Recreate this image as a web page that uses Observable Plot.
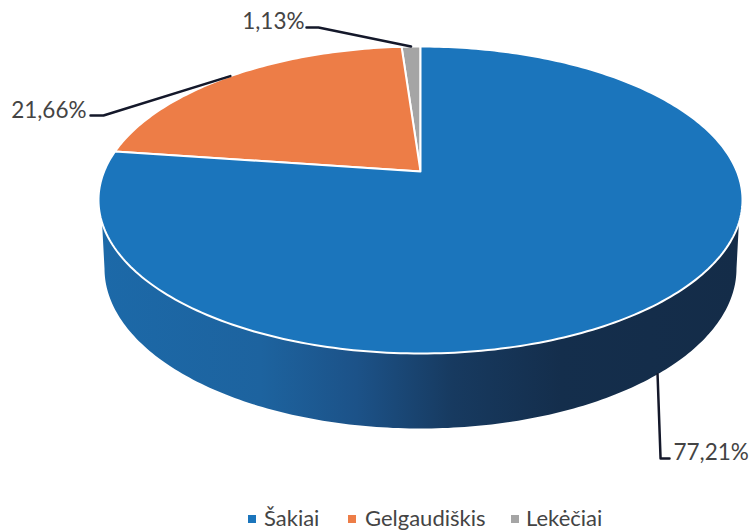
<!DOCTYPE html>
<html>
<head>
<meta charset="utf-8">
<script src="https://cdn.jsdelivr.net/npm/d3@7"></script>
<script src="https://cdn.jsdelivr.net/npm/@observablehq/plot@0.6"></script>
<style>
  html, body { margin: 0; padding: 0; background: #fff; width: 750px; height: 530px; overflow: hidden; }
  svg { display: block; }
  #legend { position: absolute; left: 0; top: 505px; width: 750px; height: 25px; font: 22px Lato, sans-serif; color: #444; }
  #legend span { position: absolute; top: 0; line-height: 25px; white-space: nowrap; }
  #legend i { position: absolute; top: 10px; width: 8px; height: 8px; }
</style>
</head>
<body>
<div id="chart"></div>
<div id="legend"></div>
<script>
// Data
const categories = ["Šakiai", "Gelgaudiškis", "Lekėčiai"];
const shares = [77.21, 21.66, 1.13];
const shareLabels = ["77,21%", "21,66%", "1,13%"];
const colors = ["#1b75bc", "#ed7d47", "#a5a5a5"];

// Perspective geometry of the pie
const W = 750, H = 505;
const top_ = {cx: 420, cy: 199.5, rx: 322, ry: 153.5};
const bot = {cx: 420, cy: 268, rx: 316, ry: 160};
const apexOffset = -0.186; // the pie's centre sits above the ellipse's centre

// turn: fraction of the circle, running anticlockwise from 12 o'clock
function project(turn, e) {
  const a = turn * 2 * Math.PI;
  const ux = -Math.sin(a), uy = -Math.cos(a), p = apexOffset;
  const d = 1 + p * uy;
  return {x: e.cx + e.rx * ux * Math.sqrt(1 - p * p) / d, y: e.cy + e.ry * (uy + p) / d};
}
const apex = {x: top_.cx, y: top_.cy + top_.ry * apexOffset};

// Slices, anticlockwise from the top: Lekėčiai, Gelgaudiškis, Šakiai
const order = [2, 1, 0];
const total = d3.sum(shares);
let run = 0;
const slices = order.map(i => {
  const start = run / total; run += shares[i]; const end = run / total;
  return {i, name: categories[i], start, end, mid: (start + end) / 2};
});
const slicePts = slices.flatMap(s => {
  const n = Math.max(4, Math.ceil((s.end - s.start) * 360));
  const arc = d3.range(n + 1).map(k => project(s.start + (s.end - s.start) * k / n, top_));
  return [apex, ...arc, apex].map(p => ({...p, name: s.name}));
});

// Side wall
const wallPts = [
  {x: top_.cx - top_.rx + 3, y: top_.cy + 12},
  ...d3.range(0, 181).map(d => {
    const a = Math.PI - d * Math.PI / 180;
    return {x: bot.cx + bot.rx * Math.cos(a), y: bot.cy + bot.ry * Math.sin(a)};
  }),
  {x: top_.cx + top_.rx - 3, y: top_.cy + 12}
];

// Leader lines, anchored on each slice's mid angle
const bySlice = Object.fromEntries(slices.map(s => [s.i, s]));
const a0 = project(bySlice[0].mid, bot);
const a1 = project(bySlice[1].mid, top_);
const a2 = project(bySlice[2].mid, top_);
const leaders = [
  [{...a0}, {x: a0.x + 3, y: 458}, {x: 669, y: 458}].map(p => ({...p, k: 0})),
  [{...a1}, {x: 103, y: 115}, {x: 90, y: 115}].map(p => ({...p, k: 1})),
  [{...a2}, {x: 318, y: 27}, {x: 306, y: 27}].map(p => ({...p, k: 2}))
].flat();
const labelPos = [
  {x: 673, y: 452, anchor: 0},
  {x: 86, y: 110, anchor: 1},
  {x: 304, y: 21, anchor: 2}
].map(p => ({...p, text: shareLabels[p.anchor]}));

const defs = () => {
  const d = d3.create("svg:defs");
  const g = d.append("linearGradient").attr("id", "wall");
  [[0, "#1c69a8"], [0.25, "#1d639f"], [0.4, "#1c5288"], [0.55, "#173a60"], [0.72, "#142e4c"], [1, "#142c48"]]
    .forEach(([o, c]) => g.append("stop").attr("offset", o).attr("stop-color", c));
  return d.node();
};

const textOpts = {x: "x", y: "y", text: "text", fontSize: 22.5, fontFamily: "Lato, sans-serif", fill: "#444"};

const chart = Plot.plot({
  width: W, height: H, margin: 0,
  style: {background: "#fff"},
  x: {domain: [0, W], range: [0, W], axis: null},
  y: {domain: [0, H], range: [0, H], axis: null},
  color: {domain: categories, range: colors},
  marks: [
    defs,
    Plot.line(wallPts, {x: "x", y: "y", fill: "url(#wall)", stroke: "none"}),
    Plot.line(slicePts, {x: "x", y: "y", z: "name", fill: "name", stroke: "#fff", strokeWidth: 2, strokeLinejoin: "round"}),
    Plot.line(leaders, {x: "x", y: "y", z: "k", stroke: "#14182a", strokeWidth: 2.5}),
    Plot.text(labelPos.filter(d => d.anchor === 0), {...textOpts, textAnchor: "start"}),
    Plot.text(labelPos.filter(d => d.anchor !== 0), {...textOpts, textAnchor: "end"})
  ]
});
document.getElementById("chart").append(chart);

// Legend
const legend = document.getElementById("legend");
const legendX = [[248, 264], [348, 365], [511, 526]];
categories.forEach((c, i) => {
  const sw = document.createElement("i");
  sw.style.left = legendX[i][0] + "px"; sw.style.background = colors[i];
  const t = document.createElement("span");
  t.style.left = legendX[i][1] + "px"; t.textContent = c;
  legend.append(sw, t);
});
</script>
</body>
</html>
